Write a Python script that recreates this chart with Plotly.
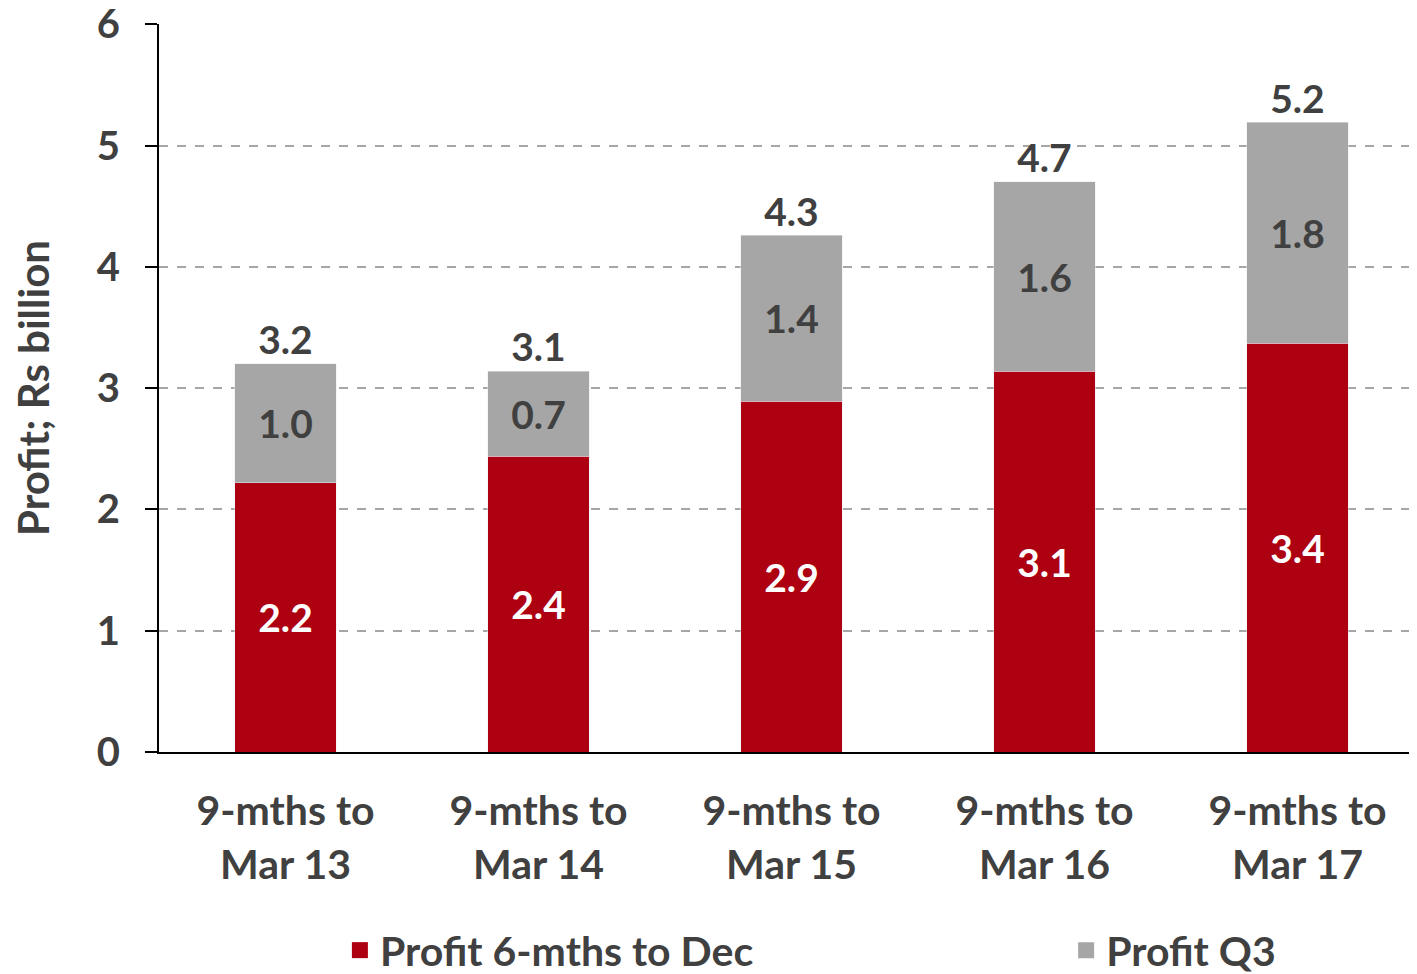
import plotly.graph_objects as go

categories = [
    "9-mths to<br>Mar 13",
    "9-mths to<br>Mar 14",
    "9-mths to<br>Mar 15",
    "9-mths to<br>Mar 16",
    "9-mths to<br>Mar 17",
]
profit_6m = [2.22, 2.44, 2.89, 3.14, 3.37]
profit_q3 = [0.98, 0.70, 1.37, 1.56, 1.82]
totals = [a + b for a, b in zip(profit_6m, profit_q3)]

FONT = "Lato"
TEXT_COLOR = "#404040"
RED = "#ad0010"
GRAY = "#a6a6a6"

fig = go.Figure()
fig.add_trace(
    go.Bar(
        x=categories,
        y=profit_6m,
        name="Profit 6-mths to Dec",
        showlegend=False,
        marker_color=RED,
        texttemplate="%{y:.1f}",
        textposition="inside",
        insidetextanchor="middle",
        textangle=0,
        textfont=dict(family=FONT, size=39, color="white", weight="bold"),
    )
)
fig.add_trace(
    go.Bar(
        x=categories,
        y=profit_q3,
        name="Profit Q3",
        showlegend=False,
        marker_color=GRAY,
        texttemplate="%{y:.1f}",
        textposition="inside",
        insidetextanchor="middle",
        textangle=0,
        textfont=dict(family=FONT, size=39, color=TEXT_COLOR, weight="bold"),
    )
)
fig.add_trace(
    go.Scatter(
        x=categories,
        y=totals,
        mode="text",
        text=[f"{t:.1f}" for t in totals],
        textposition="top center",
        textfont=dict(family=FONT, size=39, color=TEXT_COLOR, weight="bold"),
        showlegend=False,
        hoverinfo="skip",
    )
)

# legend entries with bigger square swatches than bar legends give
for name, color, legend_id in [
    ("Profit 6-mths to Dec", RED, "legend"),
    ("Profit Q3", GRAY, "legend2"),
]:
    fig.add_trace(
        go.Scatter(
            x=[None],
            y=[None],
            mode="markers",
            name=name,
            legend=legend_id,
            marker=dict(symbol="square", size=16, color=color),
        )
    )

legend_style = dict(
    orientation="h",
    yref="container",
    y=0.0,
    yanchor="bottom",
    xanchor="left",
    itemsizing="trace",
    font=dict(family=FONT, size=41, color=TEXT_COLOR, weight="bold"),
    bgcolor="rgba(0,0,0,0)",
)

# page body adds an 8px offset, so size and margins are shifted by it
fig.update_layout(
    width=1416,
    height=976,
    barmode="stack",
    bargap=0.6,
    paper_bgcolor="white",
    plot_bgcolor="white",
    margin=dict(l=151, r=0, t=16, b=232),
    font=dict(family=FONT, color=TEXT_COLOR),
    legend=dict(legend_style, x=0.143),
    legend2=dict(legend_style, x=0.7171),
    xaxis=dict(
        automargin=False,
        showline=True,
        linecolor="black",
        linewidth=2,
        ticks="",
        showgrid=False,
        tickfont=dict(family=FONT, size=41, color=TEXT_COLOR, weight="bold"),
        ticklabelstandoff=22,
    ),
    yaxis=dict(
        automargin=False,
        range=[0, 6.002],
        dtick=1,
        showline=True,
        linecolor="black",
        linewidth=2,
        ticks="outside",
        ticklen=12,
        tickwidth=2,
        tickcolor="black",
        showgrid=True,
        gridcolor="#a6a6a6",
        griddash="dash",
        gridwidth=1.5,
        zeroline=False,
        tickfont=dict(family=FONT, size=40, color=TEXT_COLOR, weight="bold"),
        ticklabelstandoff=17,
        ticklabeloverflow="allow",
        title=dict(
            text="Profit; Rs billion",
            font=dict(family=FONT, size=42, color=TEXT_COLOR, weight="bold"),
            standoff=40,
        ),
    ),
)

fig.write_html("out.html")
